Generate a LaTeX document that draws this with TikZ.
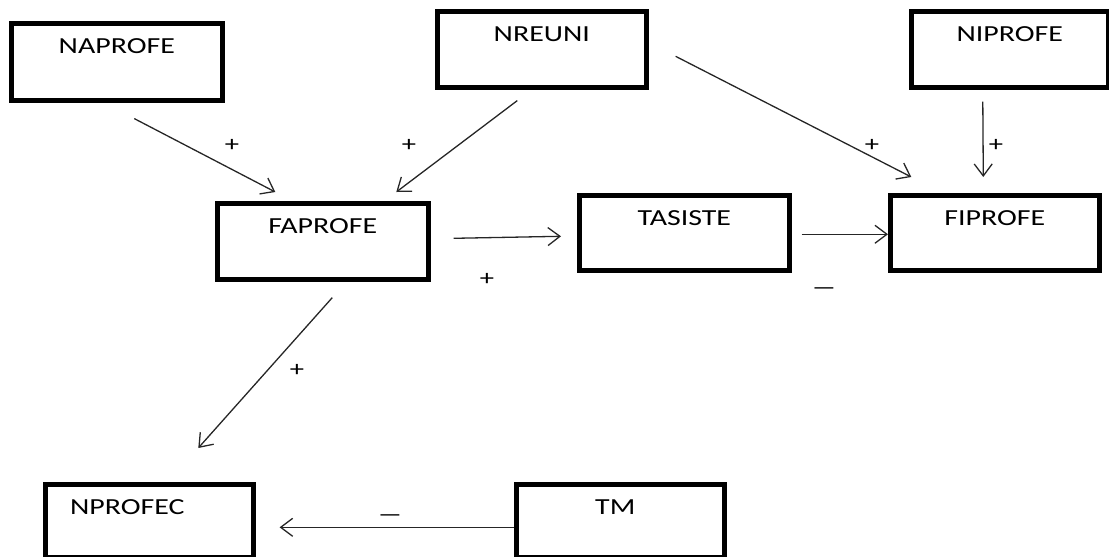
\documentclass[tikz,border=0pt]{standalone}
\usepackage{fontspec}
\setmainfont{Carlito}
\usetikzlibrary{arrows.meta,calc}
\newcommand{\wlbl}[1]{\scalebox{1.3}[1]{#1}}
\newcommand{\wminus}{\scalebox{2.4}[1]{–}}
\begin{document}
\begin{tikzpicture}[x=1pt,y=-1pt,
  box/.style={draw, line width=4.6pt, rectangle, anchor=north west,
    minimum width=210pt, minimum height=76pt, inner sep=0pt,
    text height=30pt, text depth=46pt, font=\fontsize{23}{27}\selectfont},
  sign/.style={inner sep=0pt, font=\fontsize{22}{26}\selectfont},
  arr/.style={draw, line width=1.3pt, black!85,
    -{Straight Barb[length=12pt,width=18pt]}}]
\useasboundingbox (0,0) rectangle (1109,557);
% boxes
\node[box, minimum width=211pt, minimum height=77pt, text depth=47pt] (naprofe) at (9,21) {\wlbl{NAPROFE}};
\node[box, minimum width=209pt] (nreuni) at (435,9) {\wlbl{NREUNI}};
\node[box, minimum width=197pt] (niprofe) at (909,9) {\wlbl{NIPROFE}};
\node[box, minimum width=211pt] (faprofe) at (215,201) {\wlbl{FAPROFE}};
\node[box, minimum width=210pt, minimum height=75pt, text depth=45pt] (tasiste) at (577,193) {\wlbl{TASISTE}};
\node[box, minimum width=209pt, minimum height=75pt, text depth=45pt] (fiprofe) at (888,193) {\wlbl{FIPROFE}};
\node[box, minimum width=208pt, minimum height=73pt, text depth=43pt] (nprofec) at (43,482) {\wlbl{NPROFEC}\hspace*{44pt}};
\node[box, minimum width=208pt, minimum height=73pt, text depth=43pt] (tm) at (514,482) {\wlbl{TM}\hspace*{10pt}};
% connectors
\draw[arr] ($(naprofe.south)+(17.5,16)$) -- ($(faprofe.north)+(-47.5,-9)$);
\draw[arr] ($(nreuni.south)+(-24.5,11)$) -- ($(faprofe.north)+(73.5,-9)$);
\draw[arr] ($(nreuni.east)+(27,7)$) -- ($(fiprofe.north)+(-83.5,-16)$);
\draw[arr] ($(niprofe.south)+(-27,12)$) -- ($(fiprofe.north)+(-11.5,-16)$);
\draw[arr] ($(faprofe.east)+(23,-3)$) -- ($(tasiste.west)+(-16,3.5)$);
\draw[arr] ($(tasiste.east)+(10,1.5)$) -- ($(fiprofe.west)+(0,1.5)$);
\draw[arr] ($(faprofe.south)+(9.5,16)$) -- ($(nprofec.north)+(49,-34)$);
\draw[arr] ($(tm.west)+(0,6.5)$) -- ($(nprofec.east)+(24,6.5)$);
% signs
\node[sign] (s1) at (232,145) {\wlbl{+}};
\node[sign] (s2) at (409,145) {\wlbl{+}};
\node[sign] (s3) at (872,145) {\wlbl{+}};
\node[sign] (s4) at (996,145) {\wlbl{+}};
\node[sign] (s5) at (487,279) {\wlbl{+}};
\node[sign] (s6) at (297,370) {\wlbl{+}};
\node[sign] (s7) at (824,291) {\wminus};
\node[sign] (s8) at (390,518) {\wminus};
\end{tikzpicture}
\end{document}
